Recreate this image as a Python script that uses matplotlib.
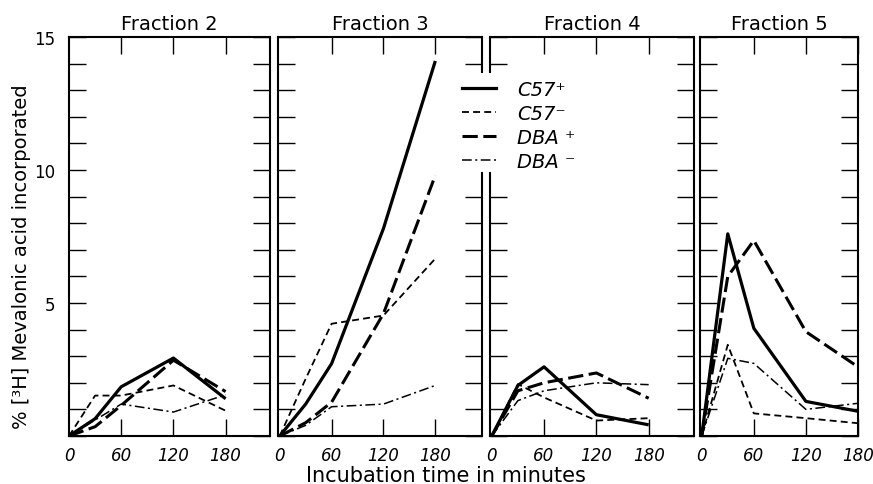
import matplotlib
matplotlib.use("Agg")
import matplotlib.pyplot as plt
from matplotlib.lines import Line2D

plt.rcParams['font.family'] = ['DejaVu Sans']
plt.rcParams['lines.scale_dashes'] = False

# incubation times (minutes)
times = [0, 30, 60, 120, 180]

# % [3H] mevalonic acid incorporated
frac2_c57p = [0, 0.65, 1.85, 2.93, 1.4]
frac2_c57m = [0, 1.52, 1.52, 1.9, 0.95]
frac2_dbap = [0, 0.35, 1.15, 2.85, 1.67]
frac2_dbam = [0, 0.6, 1.2, 0.9, 1.55]

frac3_c57p = [0, 1.2, 2.72, 7.8, 14.1]
frac3_c57m = [0, 2.15, 4.22, 4.53, 6.67]
frac3_dbap = [0, 0.5, 1.27, 4.6, 9.8]
frac3_dbam = [0, 0.4, 1.1, 1.2, 1.9]

frac4_c57p = [0, 1.9, 2.6, 0.8, 0.42]
frac4_c57m = [0, 1.95, 1.45, 0.58, 0.67]
frac4_dbap = [0, 1.7, 2.0, 2.37, 1.42]
frac4_dbam = [0, 1.33, 1.7, 2.0, 1.93]

frac5_c57p = [0, 7.6, 4.05, 1.3, 0.93]
frac5_c57m = [0, 3.43, 0.85, 0.67, 0.48]
frac5_dbap = [0, 6.0, 7.35, 3.92, 2.6]
frac5_dbam = [0, 2.92, 2.73, 1.0, 1.23]

titles = ["Fraction 2", "Fraction 3", "Fraction 4", "Fraction 5"]
series_labels = ["C57⁺", "C57⁻", "DBA ⁺", "DBA ⁻"]
xtick_vals = [0, 60, 120, 180]
ytick_labels = {5: "5", 10: "10", 15: "15"}

fractions = [
    [frac2_c57p, frac2_c57m, frac2_dbap, frac2_dbam],
    [frac3_c57p, frac3_c57m, frac3_dbap, frac3_dbam],
    [frac4_c57p, frac4_c57m, frac4_dbap, frac4_dbam],
    [frac5_c57p, frac5_c57m, frac5_dbap, frac5_dbam],
]

# line styles: solid, short dash, long dash, dash-dot
styles = [
    dict(lw=2.3, ls='-'),
    dict(lw=1.3, dashes=(5, 3)),
    dict(lw=2.2, dashes=(11, 4)),
    dict(lw=1.1, dashes=(7, 2.5, 1.5, 2.5)),
]

W, H = 873, 485
fig = plt.figure(figsize=(W / 100, H / 100), dpi=100)

top_px, bot_px = 38, 437
# panel edges in pixels and x-limits
panels = [(69, 270, (0, 231)), (278, 482, (-2, 234)),
          (490, 694, (-2, 232)), (700, 858, (-2, 180))]

axes = []
for i, (l, r, xl) in enumerate(panels):
    ax = fig.add_axes([l / W, 1 - bot_px / H, (r - l) / W, (bot_px - top_px) / H])
    for vals, st in zip(fractions[i], styles):
        ax.plot(times, vals, color='black', solid_capstyle='butt', **st)
    ax.set_xlim(*xl)
    ax.set_ylim(0, 15)
    for sp in ax.spines.values():
        sp.set_linewidth(1.5)
    ax.set_yticks(range(0, 16))
    if i == 0:
        ax.set_yticklabels([ytick_labels.get(v, "") for v in range(0, 16)], fontsize=12)
    else:
        ax.set_yticklabels([])
    ax.tick_params(axis='y', direction='in', length=12, width=1.0,
                   left=True, right=True, pad=10)
    ax.set_xticks(xtick_vals)
    ax.set_xticklabels([str(v) for v in xtick_vals], fontsize=12, style='italic')
    ax.tick_params(axis='x', direction='in', length=12, width=1.0,
                   top=True, bottom=True, pad=7)
    # no tick mark at 0, only its label
    t0 = ax.xaxis.get_major_ticks()[0]
    t0.tick1line.set_visible(False)
    t0.tick2line.set_visible(False)
    ax.set_title(titles[i], fontsize=14, pad=6)
    axes.append(ax)

# broken spines between Fraction 3 and Fraction 4 where the key sits
gap_lo, gap_hi = 9.9, 13.7
for ax, side in [(axes[1], 'right'), (axes[2], 'left')]:
    ax.spines[side].set_bounds(0, gap_lo)
    xpos = 1 if side == 'right' else 0
    ax.plot([xpos, xpos], [gap_hi, 15], color='black', lw=1.5,
            transform=ax.get_yaxis_transform(), clip_on=False)
    for t in ax.yaxis.get_major_ticks():
        v = t.get_loc()
        if gap_lo < v < gap_hi:
            if side == 'right':
                t.tick2line.set_visible(False)
            else:
                t.tick1line.set_visible(False)

handles = [Line2D([], [], color='black', **st) for st in styles]
fig.legend(handles, series_labels, loc='upper left',
           bbox_to_anchor=(462 / W, 1 - 81 / H), frameon=False,
           borderaxespad=0, borderpad=0, handlelength=1.75, handletextpad=1.1,
           labelspacing=0.25, prop=dict(size=14, style='italic'))

fig.text(446 / W, 1 - 476 / H, "Incubation time in minutes",
         ha='center', va='center', fontsize=15)
fig.text(22 / W, 1 - 257 / H, "% [³H] Mevalonic acid incorporated",
         ha='center', va='center', rotation=90, fontsize=14)

fig.savefig("out.png", dpi=100)
